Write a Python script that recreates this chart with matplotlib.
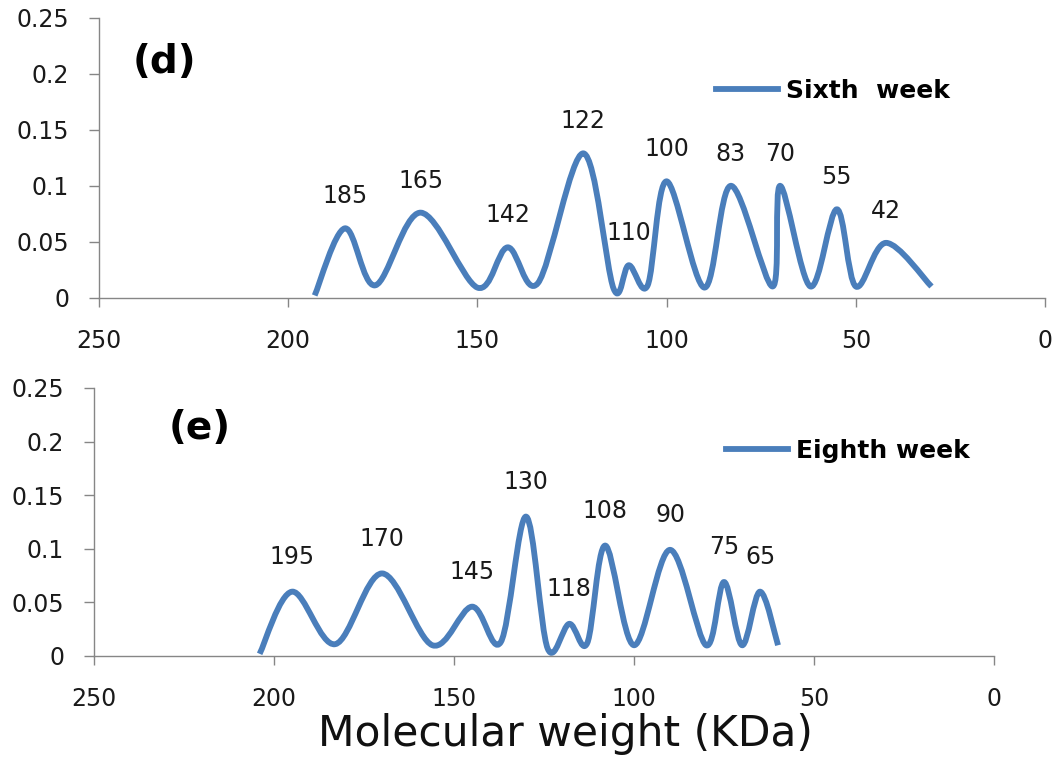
import numpy as np
import matplotlib
matplotlib.use('Agg')
import matplotlib.pyplot as plt
from matplotlib.path import Path
from matplotlib.patches import PathPatch
from matplotlib.lines import Line2D

# --- data (peaks and valleys) ---
sixth_mw = [193, 185, 177, 165, 150, 142, 134, 122, 114, 110, 105,
            100, 90, 83, 72, 70, 62, 55, 50, 42, 30]
sixth_val = [0.002, 0.062, 0.011, 0.076, 0.009, 0.045, 0.013, 0.129, 0.008, 0.029, 0.011,
             0.104, 0.009, 0.100, 0.010, 0.100, 0.010, 0.079, 0.010, 0.049, 0.010]
sixth_peaks = [185, 165, 142, 122, 110, 100, 83, 70, 55, 42]

eighth_mw = [204, 195, 183, 170, 156, 145, 137, 130, 124, 118, 113,
             108, 100, 90, 80, 75, 70, 65, 60]
eighth_val = [0.002, 0.060, 0.011, 0.077, 0.010, 0.046, 0.013, 0.130, 0.007, 0.030, 0.012,
              0.103, 0.010, 0.099, 0.010, 0.069, 0.010, 0.060, 0.010]
eighth_peaks = [195, 170, 145, 130, 118, 108, 90, 75, 65]

x_ticks = [250, 200, 150, 100, 50, 0]
y_ticks = [0, 0.05, 0.1, 0.15, 0.2, 0.25]
y_ticklabels = ['0', '0.05', '0.1', '0.15', '0.2', '0.25']

LINE_COLOR = '#4a7ebb'
AXIS_COLOR = '#868686'

plt.rcParams['font.family'] = ['DejaVu Sans']


def smooth_path(xs, ys):
    # Excel-style smoothed line: Catmull-Rom segments as cubic Beziers
    pts = np.column_stack([xs, ys]).astype(float)
    n = len(pts)
    verts = [pts[0]]
    codes = [Path.MOVETO]
    for i in range(n - 1):
        p0 = pts[max(i - 1, 0)]
        p1 = pts[i]
        p2 = pts[i + 1]
        p3 = pts[min(i + 2, n - 1)]
        verts += [p1 + (p2 - p0) / 6, p2 - (p3 - p1) / 6, p2]
        codes += [Path.CURVE4] * 3
    return Path(verts, codes)


def draw_panel(ax, mw, val, peaks, letter, letter_xy, legend_text, legend_xy, label_dy):
    ax.add_patch(PathPatch(smooth_path(mw, val), fill=False,
                           edgecolor=LINE_COLOR, lw=4.2, capstyle='butt', joinstyle='round'))

    # peak labels
    for p in peaks:
        y = val[mw.index(p)]
        ax.annotate(str(p), xy=(p, y), xytext=(0, label_dy), textcoords='offset points',
                    ha='center', va='center', fontsize=17, color='#1a1a1a')

    ax.set_xlim(250, 0)
    ax.set_ylim(0, 0.25)
    ax.set_xticks(x_ticks)
    ax.set_xticklabels([str(t) for t in x_ticks])
    ax.set_yticks(y_ticks)
    ax.set_yticklabels(y_ticklabels)

    for s in ['top', 'right']:
        ax.spines[s].set_visible(False)
    for s in ['left', 'bottom']:
        ax.spines[s].set_color(AXIS_COLOR)
        ax.spines[s].set_linewidth(1.0)
    ax.tick_params(axis='both', direction='out', width=1.0,
                   color=AXIS_COLOR, labelsize=17, labelcolor='#1a1a1a')
    ax.tick_params(axis='x', length=6.5, pad=16)
    ax.tick_params(axis='y', length=7.5, pad=14)

    ax.text(letter_xy[0], letter_xy[1], letter, transform=ax.transAxes,
            ha='center', va='center', fontsize=28, fontweight='bold')

    handle = Line2D([], [], color=LINE_COLOR, lw=4.2)
    ax.legend([handle], [legend_text], loc='center left', bbox_to_anchor=legend_xy,
              frameon=False, borderpad=0, borderaxespad=0, handlelength=2.5,
              handletextpad=0.3, prop={'size': 18, 'weight': 'bold'})


fig = plt.figure(figsize=(10.53, 7.58), dpi=100)
fig.patch.set_facecolor('white')

ax_top = fig.add_axes([0.0940, 0.6073, 0.8984, 0.3690])
draw_panel(ax_top, sixth_mw, sixth_val, sixth_peaks, '(d)', (0.069, 0.843),
           'Sixth  week', (0.652, 0.739), 23)

ax_bot = fig.add_axes([0.0893, 0.1346, 0.8547, 0.3536])
draw_panel(ax_bot, eighth_mw, eighth_val, eighth_peaks, '(e)', (0.117, 0.851),
           'Eighth week', (0.702, 0.765), 25)

fig.text(0.5366, 0.0158, 'Molecular weight (KDa)', ha='center', va='baseline',
         fontsize=30.5, color='#111111')

fig.savefig('out.png', dpi=100, facecolor='white')
